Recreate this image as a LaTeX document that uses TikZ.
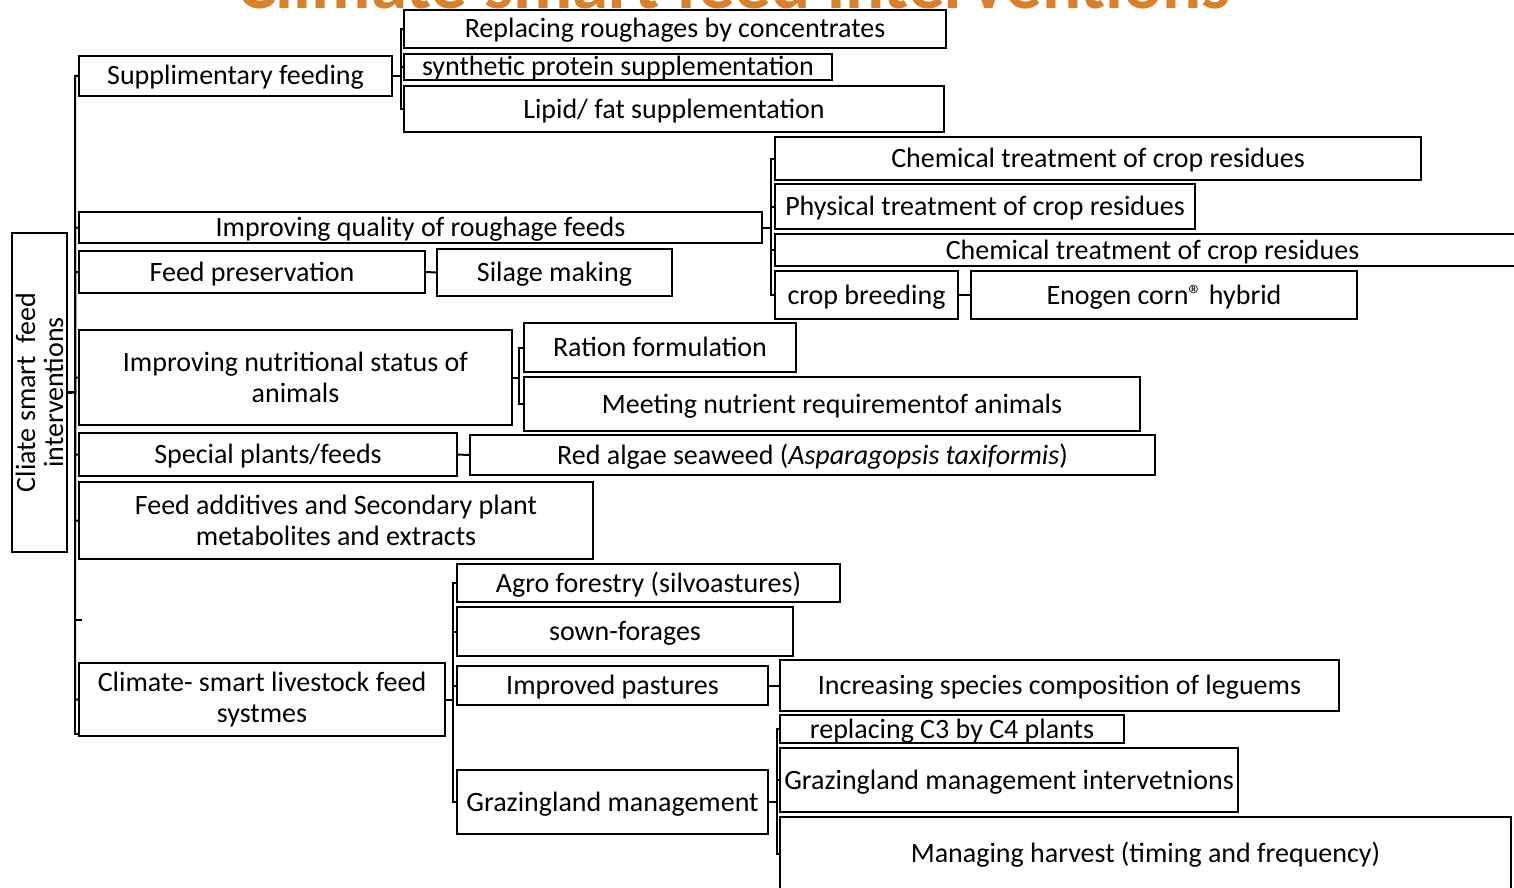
\documentclass[tikz,border=0pt]{standalone}
\usepackage{fontspec}
\setmainfont{Carlito}
\definecolor{titleorange}{RGB}{216,128,44}
\tikzset{
  box/.style={draw=black, line width=2.2pt, inner sep=0pt, font=\fontsize{28}{31}\selectfont, text height=20pt, text depth=2pt},
  mbox/.style={draw=black, line width=2.2pt, inner sep=0pt, font=\fontsize{28}{31}\selectfont, align=center},
  conn/.style={draw=black, line width=2pt},
}
\newcommand\bx[7][]{\node[box,#1,minimum width={#5-#3},minimum height={#6-#4}] (#2) at ({(#3+#5)/2},{(#4+#6)/2}) {#7};}
\newcommand\mbx[7][]{\node[mbox,#1,minimum width={#5-#3},minimum height={#6-#4}] (#2) at ({(#3+#5)/2},{(#4+#6)/2}) {#7};}
\newcommand\regmark{\textregistered}
\begin{document}
\begin{tikzpicture}[x=1pt,y=-1pt]
\useasboundingbox (0,0) rectangle (1514,888);
\clip (0,0) rectangle (1514,888);
\fill[white] (0,0) rectangle (1514,888);
% title (cut off at the top)
\node[anchor=base, text=titleorange, font=\fontsize{73}{80}\selectfont\bfseries, inner sep=0pt] (title) at (734,9) {Climate smart feed interventions};
% root
\mbx{root}{12}{233}{67}{552}{}
\node[rotate=90, align=center, font=\fontsize{28}{28}\selectfont, inner sep=0pt] (roottext) at (root.center) {Cliate smart~ feed\\interventions};
% level 1
\bx{sf}{79}{56}{392}{96}{Supplimentary feeding}
\bx{iq}{79}{212}{762}{243}{Improving quality of roughage feeds}
\bx{fp}{79}{251}{425}{293}{Feed preservation}
\mbx{ins}{79}{330}{512}{425}{Improving nutritional status of\\animals}
\bx{sp}{79}{433}{457}{476}{Special plants/feeds}
\mbx{fa}{79}{482}{593}{559}{Feed additives and Secondary plant\\metabolites and extracts}
\mbx{cs}{79}{663}{445}{736}{Climate- smart livestock feed\\systmes}
% supplementary feeding children
\bx{rr}{404}{10}{946}{48}{Replacing roughages by concentrates}
\bx{spp}{404}{54}{832}{80}{synthetic protein supplementation}
\bx{lf}{404}{86}{944}{132}{Lipid/ fat supplementation}
% improving quality children
\bx{ct1}{775}{137}{1421}{180}{Chemical treatment of crop residues}
\bx{pt}{775}{184}{1195}{229}{Physical treatment of crop residues}
\bx{ct2}{775}{234}{1530}{266}{Chemical treatment of crop residues}
\bx{cb}{775}{271}{958}{319}{crop breeding}
\bx{en}{971}{271}{1357}{319}{Enogen corn\regmark\ hybrid}
% feed preservation
\bx{sm}{437}{249}{672}{296}{Silage making}
% nutritional status
\bx{rf}{524}{323}{796}{372}{Ration formulation}
\bx{mn}{524}{377}{1140}{431}{Meeting nutrient requirementof animals}
% special plants
\bx{ra}{470}{435}{1155}{475}{Red algae seaweed (\textit{Asparagopsis taxiformis})}
% climate-smart systems
\bx{af}{457}{564}{840}{602}{Agro forestry (silvoastures)}
\bx{sw}{457}{607}{793}{656}{sown-forages}
\bx{ip}{457}{666}{768}{705}{Improved pastures}
\bx{gm}{457}{770}{768}{834}{Grazingland management}
\bx{isc}{780}{660}{1339}{711}{Increasing species composition of leguems}
\bx{rc}{780}{715}{1124}{743}{replacing C3 by C4 plants}
\bx{gmi}{780}{748}{1238}{812}{Grazingland management intervetnions}
\bx{mh}{780}{817}{1511}{890}{Managing harvest (timing and frequency)}
% connectors from root
\coordinate (trunk) at (75,392);
\foreach \c in {sf,iq,fp,ins,sp,fa,cs}
  \draw[conn] (root.east) -- (trunk) |- (\c.west);
\coordinate (stub) at (82,620);
\draw[conn] (trunk) |- (stub);
\coordinate (tbot) at (79,734);
\draw[conn] (trunk) |- (tbot);
% supplementary feeding
\foreach \c in {rr,spp,lf}
  \draw[conn] (sf.east) -- ++(8,0) |- (\c.west);
% improving quality
\foreach \c in {ct1,pt,ct2,cb}
  \draw[conn] (iq.east) -- ++(8,0) |- (\c.west);
\draw[conn] (cb.east) -- (en.west);
\draw[conn] (fp.east) -- (sm.west);
\foreach \c in {rf,mn}
  \draw[conn] (ins.east) -- ++(6,0) |- (\c.west);
\draw[conn] (sp.east) -- (ra.west);
\foreach \c in {af,sw,ip,gm}
  \draw[conn] (cs.east) -- ++(7,0) |- (\c.west);
\draw[conn] (ip.east) -- (isc.west);
\foreach \c in {rc,gmi,mh}
  \draw[conn] (gm.east) -- ++(8,0) |- (\c.west);
\end{tikzpicture}
\end{document}
